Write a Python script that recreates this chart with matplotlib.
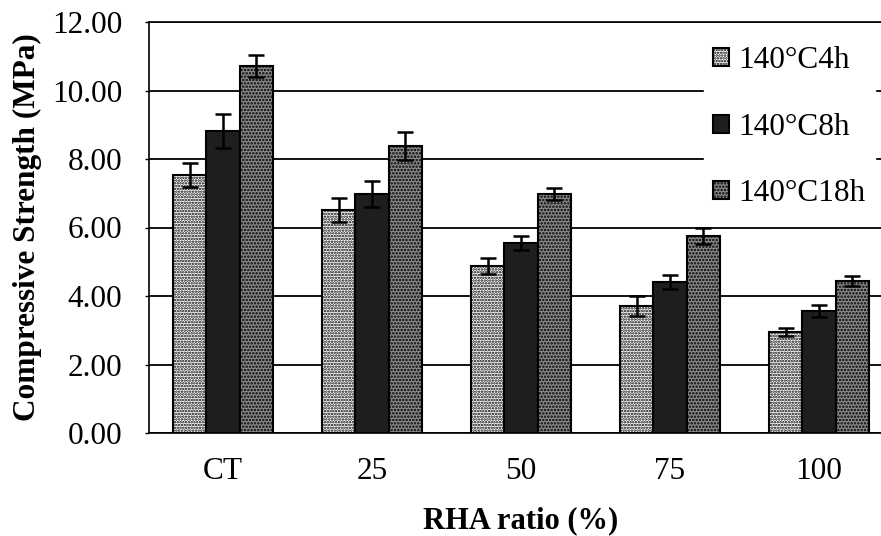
import matplotlib
matplotlib.use("Agg")
import matplotlib.pyplot as plt
import numpy as np

plt.rcParams['font.family'] = ['Liberation Serif', 'DejaVu Serif']
plt.rcParams['hatch.linewidth'] = 1.2

categories = ["CT", "25", "50", "75", "100"]
series_names = ["140°C4h", "140°C8h", "140°C18h"]
vals_4h = [7.53, 6.51, 4.88, 3.71, 2.95]
vals_8h = [8.82, 6.98, 5.55, 4.41, 3.56]
vals_18h = [10.72, 8.38, 6.98, 5.75, 4.44]
err_4h = [0.35, 0.35, 0.23, 0.30, 0.12]
err_8h = [0.50, 0.38, 0.20, 0.20, 0.18]
err_18h = [0.32, 0.40, 0.17, 0.24, 0.14]
yticks = [0, 2, 4, 6, 8, 10, 12]

fig = plt.figure(figsize=(8.81, 5.36), dpi=100)
W, H = 881, 536
left, right, top, bottom = 148.5, 893.5, 22, 433
ax = fig.add_axes([left / W, 1 - bottom / H, (right - left) / W, (bottom - top) / H])

x = np.arange(len(categories))
bw = 0.222
styles = [
    dict(facecolor="white", edgecolor="black", hatch="......"),
    dict(facecolor="#1e1e1e", edgecolor="black", hatch=None),
    dict(facecolor="#8a8a8a", edgecolor="black", hatch="....."),
]
data = [vals_4h, vals_8h, vals_18h]
errs = [err_4h, err_8h, err_18h]
for i, (v, e, st, name) in enumerate(zip(data, errs, styles, series_names)):
    ax.bar(x + (i - 1) * bw, v, bw, label=name, linewidth=1.5, zorder=3, **st)
    ax.errorbar(x + (i - 1) * bw, v, yerr=e, fmt="none", ecolor="black",
                elinewidth=1.8, capsize=6, capthick=1.8, zorder=4)

ax.set_xlim(-0.5, len(categories) - 0.5)
ax.set_ylim(0, 12)
ax.set_yticks(yticks)
ax.set_yticklabels([f"{t:.2f}" for t in yticks], fontsize=22.5)
ax.set_xticks(x)
ax.set_xticklabels(categories, fontsize=22.5)
ax.tick_params(axis="y", length=3, width=1, pad=16)
ax.tick_params(axis="x", length=0, pad=17)
ax.yaxis.grid(True, color="black", linewidth=1.3, zorder=0)
ax.set_axisbelow(True)
for s in ax.spines.values():
    s.set_linewidth(1.2)

ax.set_ylabel("Compressive Strength (MPa)", fontsize=22.5, fontweight="bold", labelpad=7)
ax.set_xlabel("RHA ratio (%)", fontsize=22, fontweight="bold", labelpad=15)

leg = ax.legend(loc="upper left", bbox_to_anchor=(704 / W, 1 - 37 / H),
                bbox_transform=fig.transFigure,
                frameon=True, fontsize=22.5, handlelength=0.5, handleheight=0.5,
                handletextpad=0.3, labelspacing=1.2, borderpad=0.3, borderaxespad=0)
leg.get_frame().set_edgecolor("white")
leg.get_frame().set_facecolor("white")
leg.get_frame().set_alpha(1)
leg.set_zorder(6)

fig.savefig("out.png", dpi=100)
